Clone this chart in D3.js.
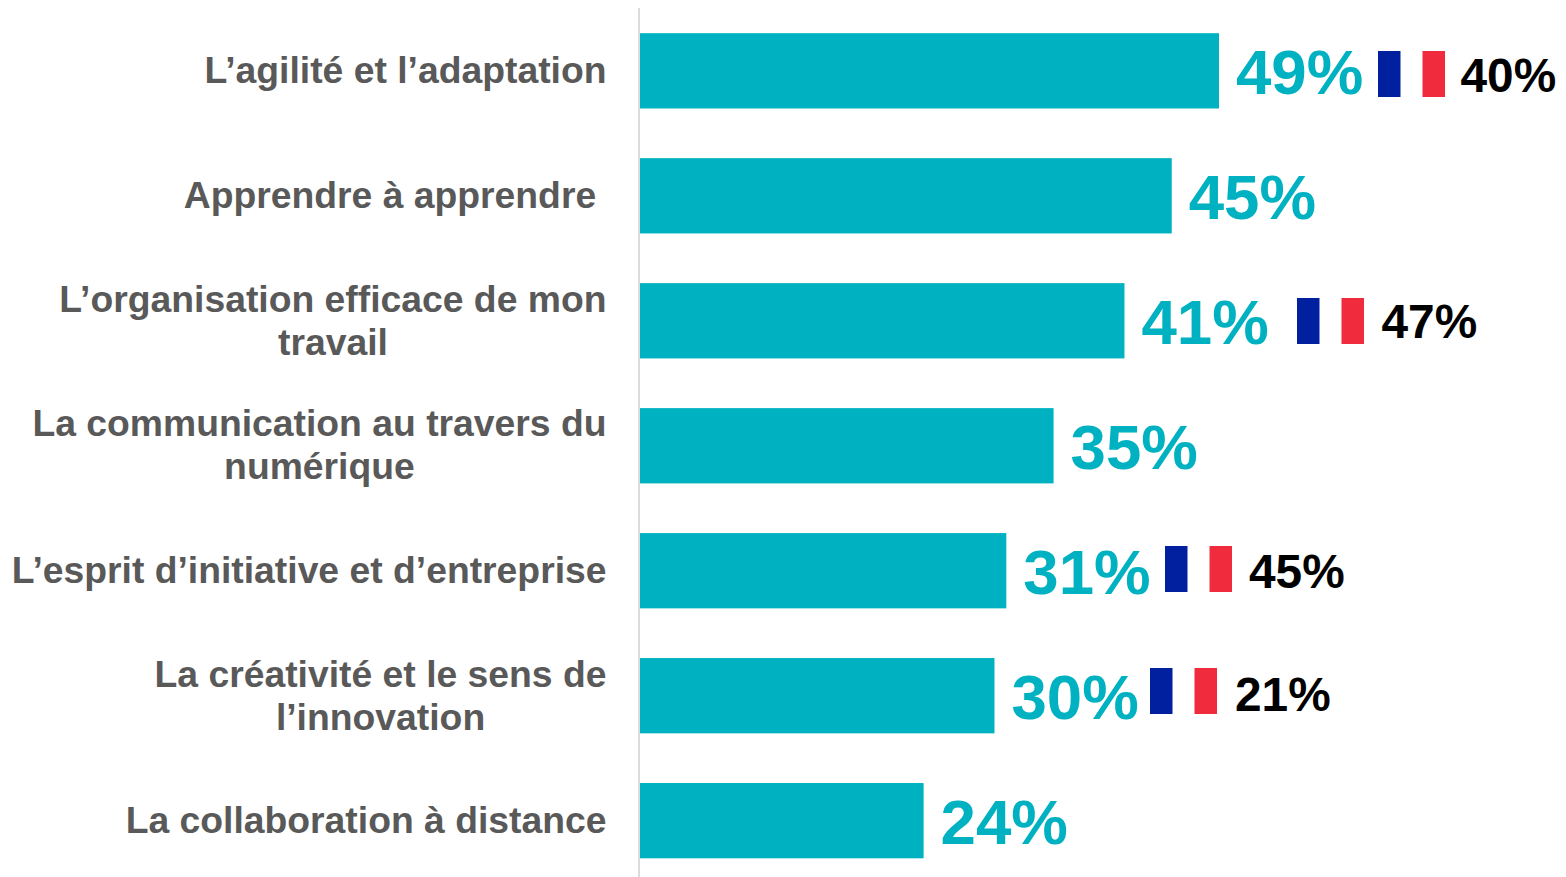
<!DOCTYPE html>
<html><head><meta charset="utf-8">
<script src="https://cdn.jsdelivr.net/npm/d3@7"></script>
<style>html,body{margin:0;padding:0;background:#fff}svg{display:block}text{font-family:"Liberation Sans",Arial,sans-serif;white-space:pre}</style>
</head><body><svg id="c" width="1566" height="877"></svg>
<script>
const labels=[["L’agilité et l’adaptation"],["Apprendre à apprendre "],["L’organisation efficace de mon","travail"],["La communication au travers du","numérique"],["L’esprit d’initiative et d’entreprise"],["La créativité et le sens de","l’innovation"],["La collaboration à distance"]];
const values=[49,45,41,35,31,30,24];
const franceValues=[40,null,47,null,45,21,null];
// layout tweaks per row
const labelNudge=[0,0,1,0,0,1,0];
const flagGap=[159,0,173,0,159,156,0];
const flagRise=[19.6,0,22.4,0,24.7,27.5,0];
const textDx=[82.5,0,84.5,0,84,85,0];
const textDy=[40.5,0,40,0,42,43,0];
const svg=d3.select("#c");
const x=d3.scaleLinear().domain([0,49]).range([640,1219]);
const y=d3.scaleBand().domain(d3.range(7)).range([8.5,883]).paddingInner(0.3975).paddingOuter(0.1975);
const teal="#00B2C1";
svg.append("line").attr("x1",639).attr("x2",639).attr("y1",8).attr("y2",877).attr("stroke","#d0d0d0").attr("stroke-width",1.5);
svg.selectAll("rect.bar").data(values).join("rect").attr("class","bar")
 .attr("x",x(0)).attr("y",(d,i)=>y(i)).attr("width",d=>x(d)-x(0)).attr("height",y.bandwidth()).attr("fill",teal);
svg.selectAll("text.val").data(values).join("text").attr("class","val")
 .attr("x",d=>x(d)+17).attr("y",(d,i)=>y(i)+y.bandwidth()/2+23).attr("font-size",63.6).attr("font-weight",700).attr("fill",teal).text(d=>d+"%");
const labelSize=37.3;
labels.forEach((l,i)=>{
 const cy=y(i)+y.bandwidth()/2;
 let firstWidth=0;
 l.forEach((t,j)=>{
  const tx=svg.append("text").attr("font-size",labelSize).attr("font-weight",700).attr("fill","#595959").text(t);
  tx.attr("y",cy+12+labelNudge[i]-(l.length-1)*21.5+j*43);
  if(j==0){ tx.attr("x",606.5).attr("text-anchor","end"); firstWidth=tx.node().getComputedTextLength(); }
  else tx.attr("x",606.5-firstWidth/2).attr("text-anchor","middle");
 });
});
franceValues.forEach((v,i)=>{
 if(v==null) return;
 const cy=y(i)+y.bandwidth()/2;
 const fx=Math.round(x(values[i])+flagGap[i]);
 const fy=Math.round(cy-flagRise[i]);
 svg.append("rect").attr("x",fx).attr("y",fy).attr("width",22.5).attr("height",46).attr("fill","#00209F");
 svg.append("rect").attr("x",fx+44.5).attr("y",fy).attr("width",22.5).attr("height",46).attr("fill","#EF2B3D");
 svg.append("text").attr("x",fx+textDx[i]).attr("y",fy+textDy[i]).attr("font-size",47.8).attr("font-weight",700).attr("fill","#000").text(v+"%");
});
</script></body></html>
